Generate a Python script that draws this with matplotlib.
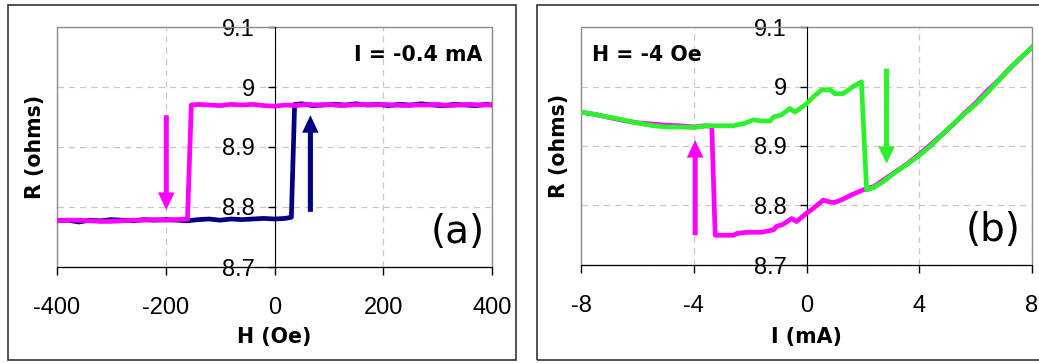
import numpy as np
import matplotlib
matplotlib.use('Agg')
from matplotlib import pyplot as plt
from matplotlib.patches import Rectangle

plt.rcParams['font.family'] = ['Liberation Sans', 'DejaVu Sans']

# panel (a): R vs H at I = -0.4 mA
H_up = [-400, -380, -360, -340, -320, -300, -280, -260, -240, -220, -200, -180, -160, -140,
        -120, -100, -80, -60, -40, -20, 0, 20, 31, 37, 50, 70, 90, 110, 130, 150, 170, 190,
        210, 230, 250, 270, 290, 310, 330, 350, 370, 390, 400]
R_up = [8.777, 8.778, 8.775, 8.778, 8.777, 8.779, 8.778, 8.777, 8.779, 8.778, 8.779, 8.778, 8.777, 8.779,
        8.780, 8.778, 8.780, 8.779, 8.780, 8.781, 8.780, 8.781, 8.783, 8.971, 8.972, 8.969, 8.970, 8.971, 8.970, 8.972, 8.970, 8.971,
        8.969, 8.971, 8.970, 8.972, 8.970, 8.969, 8.971, 8.970, 8.969, 8.971, 8.970]

H_dn = [-400, -380, -360, -340, -320, -300, -280, -260, -240, -220, -200, -180, -160, -153,
        -140, -120, -100, -80, -60, -40, -20, 0, 20, 40, 60, 80, 100, 120, 140, 160, 180,
        200, 220, 240, 260, 280, 300, 320, 340, 360, 380, 400]
R_dn = [8.777, 8.778, 8.778, 8.777, 8.776, 8.776, 8.777, 8.778, 8.778, 8.779, 8.778, 8.779, 8.780, 8.970,
        8.971, 8.970, 8.969, 8.971, 8.970, 8.971, 8.969, 8.968, 8.970, 8.969, 8.971, 8.970, 8.971, 8.969, 8.970, 8.971, 8.970,
        8.971, 8.970, 8.969, 8.970, 8.970, 8.971, 8.969, 8.970, 8.971, 8.970, 8.970]

# panel (b): R vs I at H = -4 Oe
I_g = [-8, -7.5, -7.08, -6.6, -6.25, -5.8, -5.43, -5.0, -4.5, -4.0, -3.54, -3.0, -2.6, -2.2, -1.89,
       -1.6, -1.3, -1.17, -0.9, -0.59, -0.41, -0.2, 0, 0.25, 0.53, 0.83, 1.0, 1.3, 1.66, 1.95, 2.13,
       2.37, 2.66, 3.19, 3.6, 4.02, 4.4, 4.73, 5.1, 5.55, 6.0, 6.38, 6.7, 7.09, 7.5, 8.0]
R_g = [8.957, 8.953, 8.949, 8.945, 8.941, 8.937, 8.934, 8.932, 8.932, 8.931, 8.934, 8.934, 8.934, 8.938, 8.944,
       8.942, 8.942, 8.949, 8.952, 8.963, 8.957, 8.964, 8.971, 8.983, 8.994, 8.995, 8.988, 8.988, 9.000, 9.008, 8.826,
       8.830, 8.838, 8.857, 8.870, 8.885, 8.900, 8.915, 8.932, 8.952, 8.970, 8.988, 9.004, 9.024, 9.044, 9.066]

I_p = [-8, -7.5, -7.0, -6.5, -6.0, -5.5, -5.0, -4.5, -4.0, -3.6, -3.36, -3.24, -3.0, -2.6, -2.47, -2.12,
       -1.6, -1.17, -1.06, -0.85, -0.71, -0.53, -0.35, 0, 0.24, 0.59, 0.83, 0.98, 1.27, 1.6, 2.0, 2.4,
       2.8, 3.2, 3.6, 4.0, 4.4, 4.8, 5.2, 5.6, 6.0, 6.4, 6.8, 7.2, 7.6, 8.0]
R_p = [8.957, 8.953, 8.948, 8.943, 8.939, 8.937, 8.935, 8.934, 8.932, 8.934, 8.933, 8.750, 8.750, 8.750, 8.753, 8.755,
       8.755, 8.759, 8.765, 8.768, 8.772, 8.778, 8.773, 8.787, 8.795, 8.809, 8.806, 8.805, 8.810, 8.818, 8.826, 8.832,
       8.845, 8.858, 8.871, 8.886, 8.902, 8.919, 8.936, 8.955, 8.972, 8.992, 9.010, 9.030, 9.048, 9.066]

y_ticks = [8.7, 8.8, 8.9, 9.0, 9.1]
y_labels = ['8.7', '8.8', '8.9', '9', '9.1']
xa_ticks = [-400, -200, 0, 200, 400]
xb_ticks = [-8, -4, 0, 4, 8]

navy = '#000080'
pink = '#ff00ff'
green = '#2cf22c'
wide = ['DejaVu Sans']

fig = plt.figure(figsize=(10.39, 3.63), dpi=100)

# outer boxes
fig.add_artist(Rectangle((8 / 1039, 3 / 363), 508 / 1039, 355 / 363, transform=fig.transFigure,
                         fill=False, ec='#333333', lw=1.2))
fig.add_artist(Rectangle((537 / 1039, 3 / 363), 520 / 1039, 355 / 363, transform=fig.transFigure,
                         fill=False, ec='#333333', lw=1.2))

ax1 = fig.add_axes([57 / 1039, 1 - 267 / 363, 435 / 1039, 240 / 363])
ax2 = fig.add_axes([581 / 1039, 1 - 265 / 363, 451 / 1039, 238 / 363])


def style(ax, xt, xlabel):
    ax.set_ylim(8.7, 9.1)
    ax.set_xlim(xt[0], xt[-1])
    ax.set_xticks(xt)
    ax.set_xticklabels([str(v) for v in xt])
    ax.set_yticks(y_ticks)
    ax.set_yticklabels(y_labels)
    ax.spines['left'].set_position(('data', 0))
    for s in ['top', 'right']:
        ax.spines[s].set_visible(False)
    ax.spines['left'].set_color('black')
    ax.spines['bottom'].set_color('black')
    ax.add_patch(Rectangle((0, 0), 1, 1, transform=ax.transAxes, fill=False,
                           ec='#8c8c8c', lw=1.0, clip_on=False, zorder=1))
    ax.grid(True, ls=(0, (5, 4)), color='#c8c8c8', lw=0.9)
    ax.set_axisbelow(True)
    ax.tick_params(axis='x', direction='out', length=5.5, width=1, pad=16, labelsize=17)
    ax.tick_params(axis='y', direction='out', length=5, width=1, pad=9, labelsize=17)
    ax.set_xlabel(xlabel, fontsize=14.8, fontweight='bold', family=wide, va='center')
    ax.set_ylabel('R (ohms)', fontsize=14.8, fontweight='bold', family=wide, va='center')


style(ax1, xa_ticks, 'H (Oe)')
style(ax2, xb_ticks, 'I (mA)')
ax1.xaxis.set_label_coords(0.5, -0.292)
ax2.xaxis.set_label_coords(0.5, -0.303)
ax1.yaxis.set_label_coords(-0.05, 0.5)
ax2.yaxis.set_label_coords(-0.049, 0.5)

arr = 'simple,head_width=0.85,head_length=0.9,tail_width=0.26'

# panel (a)
ax1.plot(H_up, R_up, color=navy, lw=3.4, zorder=3, solid_joinstyle='round')
ax1.plot(H_dn, R_dn, color=pink, lw=3.4, zorder=4, solid_joinstyle='round')
ax1.annotate('', xy=(-199, 8.795), xytext=(-199, 8.953),
             arrowprops=dict(arrowstyle=arr, color=pink, lw=0, shrinkA=0, shrinkB=0, mutation_scale=14))
ax1.annotate('', xy=(66, 8.953), xytext=(66, 8.792),
             arrowprops=dict(arrowstyle=arr, color=navy, lw=0, shrinkA=0, shrinkB=0, mutation_scale=14))
ax1.text(0.979, 0.883, 'I = -0.4 mA', transform=ax1.transAxes, ha='right', va='center',
         fontsize=14.8, fontweight='bold', family=wide)
ax1.text(0.92, 0.146, '(a)', transform=ax1.transAxes, ha='center', va='center', fontsize=28,
         family=wide)

# panel (b)
ax2.plot(I_p, R_p, color=pink, lw=3.4, zorder=3, solid_joinstyle='round')
ax2.plot(I_g, R_g, color=green, lw=3.4, zorder=4, solid_joinstyle='round')
ax2.annotate('', xy=(-3.95, 8.91), xytext=(-3.95, 8.75),
             arrowprops=dict(arrowstyle=arr, color=pink, lw=0, shrinkA=0, shrinkB=0, mutation_scale=14))
ax2.annotate('', xy=(2.84, 8.87), xytext=(2.84, 9.03),
             arrowprops=dict(arrowstyle=arr, color=green, lw=0, shrinkA=0, shrinkB=0, mutation_scale=14))
ax2.text(0.024, 0.882, 'H = -4 Oe', transform=ax2.transAxes, ha='left', va='center',
         fontsize=14.8, fontweight='bold', family=wide)
ax2.text(0.913, 0.147, '(b)', transform=ax2.transAxes, ha='center', va='center', fontsize=28,
         family=wide)

fig.savefig('out.png', dpi=100)
